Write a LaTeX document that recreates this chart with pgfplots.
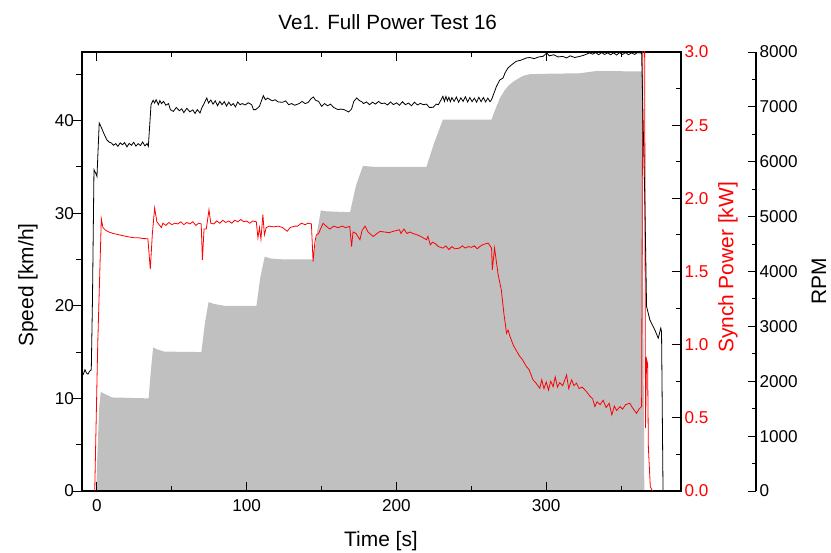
\documentclass[border=0pt]{standalone}
\usepackage{pgfplots}
\pgfplotsset{compat=1.18}
\usepackage{fontspec}
\setmainfont{Liberation Sans}
\definecolor{sgray}{RGB}{192,192,192}
\pgfplotsset{
  common/.style={
    scale only axis, width=599bp, height=439bp, at={(0,0)}, anchor=south west,
    xmin=-10, xmax=390,
    /pgf/number format/assume math mode=true,
    /pgf/number format/set thousands separator={},
    tick label style={font=\fontsize{17.2}{19}\selectfont},
    axis line style={line width=1.1bp},
    major tick length=9.5bp, minor tick length=5.5bp,
    every tick/.style={black, line width=1bp},
  }
}
\begin{document}
\begin{tikzpicture}
% ---------- Speed (gray area) ----------
\begin{axis}[common, axis on top,
  ymin=0, ymax=47.4,
  xtick={0,100,200,300}, minor xtick={50,150,250,350},
  ytick={0,10,20,30,40}, minor ytick={5,15,25,35,45},
  xtick pos=both, ytick pos=left,
  xtick align=inside, ytick align=outside,
  xticklabel style={yshift=-5bp},
  yticklabel style={xshift=5bp},
]
\addplot[fill=sgray, draw=none] coordinates {
(-10,0) (-0.5,0) (0.5,5) (1.5,9) (2.5,10.7) (5,10.5) (10,10.1) (34.5,10.0)
(36,13) (37.5,15.5) (40,15.3) (45,15.05) (69.7,15.0)
(72,18) (74.5,20.4) (78,20.2) (85,20.0) (106.5,20.0)
(109,23) (112,25.3) (116,25.1) (125,25.0) (144.5,25.0)
(147,28) (149.5,30.3) (153,30.2) (169,30.1)
(173,33) (177.6,35.1) (185,35.0) (220,35.0)
(225,37.5) (231,40.1) (240,40.1) (263.5,40.1)
(265,40.8) (267,41.6) (269,42.4) (272,43.2) (275,43.8) (278,44.2) (282,44.6)
(285,44.85) (289,45.0) (300,45.05) (322,45.1) (333.6,45.35) (364,45.3) (365.5,0)
} \closedcycle;
\end{axis}
% ---------- Synch Power (red) ----------
\begin{axis}[common, axis x line=none, axis y line*=right,
  ymin=0, ymax=3,
  ytick={0,0.5,1,1.5,2,2.5,3}, minor ytick={0.25,0.75,1.25,1.75,2.25,2.75},
  ytick align=inside,
  yticklabel style={red, /pgf/number format/.cd, fixed, fixed zerofill, precision=1},
]
\addplot[red, line width=0.8bp] coordinates {
(-1.5,0) (0.5,1.0) (2.9,1.86)
(4,1.80) (6,1.78) (8,1.77) (10.7,1.76) (13,1.755) (15,1.75) (19.6,1.74) (22,1.735) (25,1.73) (28,1.73) (31,1.725) (34,1.724)
(35.6,1.516) (37,1.76) (38.5,1.934) (40,1.84) (41.5,1.82) (43,1.80)
(44,1.83) (46,1.815) (48,1.835) (50,1.82) (52,1.83) (54,1.825) (56,1.84) (58,1.82) (60,1.835) (62,1.825) (64,1.84) (66,1.815) (68,1.83) (69.6,1.825)
(70.4,1.58) (71.5,1.79) (73,1.79) (74.8,1.922) (76,1.83) (78,1.825)
(80,1.845) (82,1.83) (84,1.85) (86,1.835) (88,1.845) (90,1.83) (92,1.85) (94,1.84) (96,1.855) (98,1.84) (100,1.845) (102,1.83) (104,1.845) (106.4,1.84)
(107.5,1.73) (108.5,1.80) (109.5,1.72) (110.8,1.888) (111.8,1.75) (113,1.80) (115,1.81) (118,1.805) (121,1.81) (124,1.80) (127,1.775) (129,1.80) (132,1.81) (134,1.81) (136.5,1.83) (139,1.82) (141,1.83) (143.2,1.825)
(144.3,1.568) (145.5,1.70) (146.5,1.75) (148,1.76) (151,1.83) (153,1.81) (155.5,1.79) (158,1.81) (161,1.80) (164,1.81) (166,1.80) (168.8,1.808)
(170,1.671) (171,1.77) (173,1.76) (175.6,1.717) (177,1.78) (179,1.81) (181,1.77) (184.5,1.739) (187,1.76) (189,1.774) (192,1.77) (195,1.765) (198,1.775) (200,1.78) (202,1.785) (203,1.76) (205,1.79) (207,1.76) (209,1.77) (211,1.76) (214,1.75) (217,1.735) (220,1.717)
(221,1.74) (222.6,1.682) (224,1.70) (226,1.69) (228,1.67) (231,1.66) (233,1.675) (235,1.65) (237,1.67) (239,1.655) (242,1.66) (244,1.675) (246,1.66) (248,1.67) (250,1.665) (252,1.675) (254,1.655) (255.6,1.671) (258,1.685) (261.2,1.694) (263.5,1.66)
(264,1.512) (265.5,1.66) (267.9,1.477) (270,1.375) (271.7,1.215) (273.5,1.078) (274.5,1.10) (275.7,1.06) (277.9,0.999) (280,0.96) (282.4,0.919) (284,0.90) (286.8,0.85) (288.5,0.83) (291.2,0.759) (293,0.74) (295.7,0.702)
(297,0.76) (298.5,0.70) (300,0.745) (301.5,0.69) (303,0.75) (304.6,0.713) (306,0.78) (307.5,0.71) (309,0.74) (311,0.72) (313.6,0.793) (315,0.70) (317,0.76) (318.5,0.72) (320.2,0.737) (322,0.70) (324,0.71) (326.9,0.679)
(329,0.65) (331,0.63) (332.5,0.577) (334,0.61) (336,0.59) (338,0.62) (340,0.57) (342,0.60) (343.8,0.52) (345.5,0.58) (347,0.55) (349.3,0.577) (351,0.56) (353,0.59) (355.8,0.60) (357.5,0.57) (360.3,0.531) (362,0.56) (363.7,0.577)
(364.6,3.5) (365.6,3.5) (366.3,0.43) (367,0.9) (367.7,0.87) (368.2,0.3) (369.5,0.03) (371,0)
};
\end{axis}
% ---------- RPM (black) ----------
\begin{axis}[common, hide axis, ymin=0, ymax=8000]
\addplot[black, line width=0.8bp] coordinates {
(-9.3,2116) (-8,2210) (-7,2150) (-6,2130) (-5,2180) (-3.8,2210) (-3,3500) (-2,5855) (-1,5800) (0,5733) (1.5,6707)
(3,6620) (4.5,6520) (6.5,6402) (8,6360) (9.6,6342) (11,6300) (12.5,6330) (14,6280) (15.5,6345) (17,6310) (18.5,6350) (20,6270) (21.5,6335) (23,6300) (24.5,6355) (26,6285) (27.5,6330) (29,6295) (30.5,6360) (32,6290) (33.5,6330) (34.3,6280)
(36.1,7041) (37.5,7120) (38.5,7070) (39.5,7130) (41,7040) (42,7115) (43,7060) (44.5,7100) (46,7030) (47.8,7060) (49,6950) (51,6918) (53,6990) (55,6930) (56.6,6965) (58,6895) (60,6975) (62,6910) (64,6945) (65.5,6880) (67,6950) (68.8,6889)
(70,6980) (71.5,7060) (73.3,7163) (74.5,7070) (76,7125) (77.5,7050) (79,7110) (80.5,7020) (82,7100) (83.5,7040) (85,7095) (86.5,7015) (88,7085) (89.5,7025) (91,7060) (92.5,7000) (94,7090) (95.5,7040) (97,7060) (99,7035) (101,7075) (103.3,7040) (104.5,6950) (106,6950)
(108.5,7010) (111.1,7205) (112.5,7130) (114,7160) (117,7110) (119,7130) (121,7090) (124,7083) (126,7110) (128,7040) (130,7060) (132,7030) (135,7060) (137,7100) (139,7060) (141,7080) (143,7150) (144.5,7180)
(146,7120) (148,7100) (150,7010) (152,7060) (154,7020) (156,7050) (158,6990) (161,6950) (163,6960) (165,6950) (168,6907) (170,6960) (171.5,7100) (173.5,7163) (175,7120) (177,7090) (178,7060) (180,7090)
(182,7040) (184,7085) (186,7050) (188,7100) (190,7059) (192,7070) (194,7035) (196,7090) (198,7040) (200,7075) (202,7030) (204,7095) (206,7040) (208,7070) (210,7020) (212,7085) (214,7035) (216,7065) (217.8,7041) (220,7050) (222,6990) (224.5,6992) (226.5,7050) (228,7040)
(230,7140) (231,7192) (232,7100) (233,7190) (234,7110) (235,7175) (236,7095) (237,7170) (238.5,7100) (240,7180) (241.5,7085) (243,7165) (244.5,7100) (246,7185) (247.5,7090) (249,7170) (250.5,7095) (252,7160) (253.5,7085) (255,7175) (256.5,7095) (258,7170) (259.5,7090) (261,7160) (262.5,7095) (263.5,7132)
(266.8,7375) (269,7490) (271.2,7527) (272.5,7620) (274.5,7710) (277,7770) (280,7831) (283,7850) (286.8,7892) (289,7900) (292,7880) (295,7910) (298,7922) (300.4,7984) (302,7930) (305,7950) (308,7910) (311,7920) (313.6,7892) (316,7930) (319,7900) (322.4,7920) (325,7940)
(329,7984) (331,7960) (333,7990) (335,7950) (337,7990) (339,7955) (341,7985) (343,7950) (345,7985) (347,7945) (349,7990) (351,7955) (353,7990) (355,7950) (357,7985) (359,7955) (361,7990) (363.7,7980)
(365.8,5368) (367,3362) (369.2,3119) (372.5,2937) (374.8,2785) (376.5,2968) (377,2900) (378,0)
};
\end{axis}
% ---------- RPM scale (offset) ----------
\begin{axis}[common, at={(75bp,0)}, xmin=0, xmax=1, axis x line=none, axis y line*=right,
  ymin=0, ymax=8000,
  ytick={0,1000,...,8000}, minor ytick={500,1500,...,7500},
  ytick align=inside, major tick length=8bp, minor tick length=4.5bp,
]
\addplot[draw=none] coordinates {(0,0)};
\end{axis}
% ---------- labels ----------
\node[anchor=base, font=\fontsize{20.7}{24}\selectfont] at (305.7bp,461.7bp) {Ve1. Full Power Test 16};
\node[anchor=base, font=\fontsize{21}{24}\selectfont] at (299bp,-55.7bp) {Time [s]};
\node[anchor=base, rotate=90, font=\fontsize{21}{24}\selectfont] at (-48.7bp,206bp) {Speed [km/h]};
\node[anchor=base, rotate=90, red, font=\fontsize{21}{24}\selectfont] at (651.3bp,223.5bp) {Synch Power [kW]};
\node[anchor=base, rotate=90, font=\fontsize{21}{24}\selectfont] at (744bp,209.8bp) {RPM};
\pgfresetboundingbox
\path[use as bounding box] (-82bp,-62bp) rectangle (749bp,491bp);
\end{tikzpicture}
\end{document}
